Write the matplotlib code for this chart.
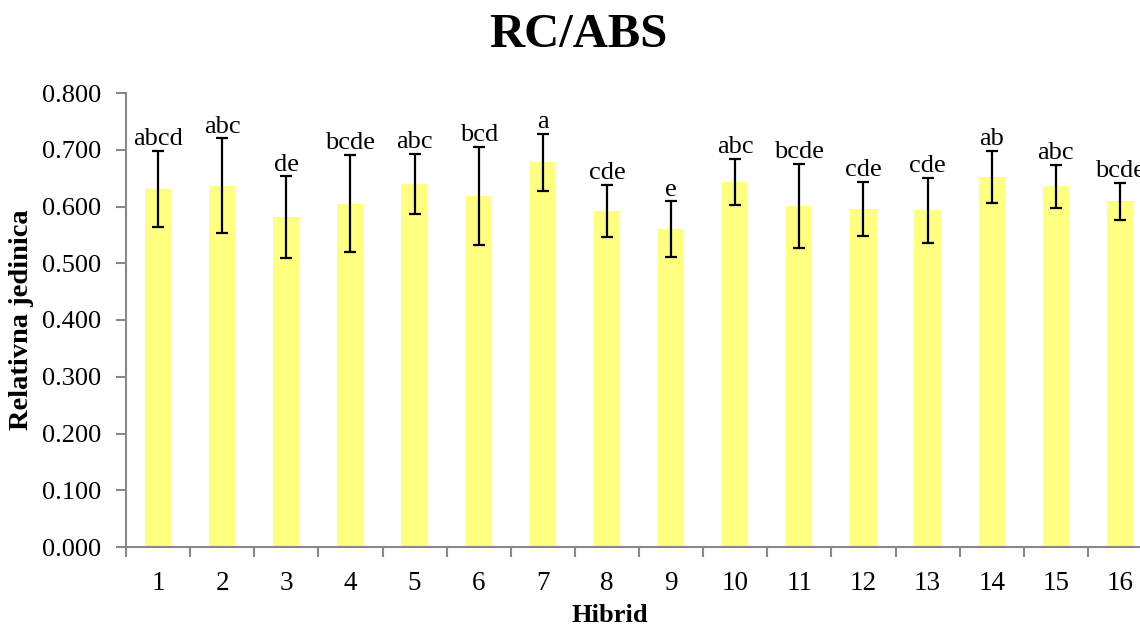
import matplotlib
matplotlib.use("Agg")
import matplotlib.pyplot as plt
import numpy as np

hibrid = ["1", "2", "3", "4", "5", "6", "7", "8", "9", "10", "11", "12", "13", "14", "15", "16"]
values = [0.631, 0.637, 0.581, 0.605, 0.640, 0.619, 0.678, 0.592, 0.560, 0.643, 0.601, 0.596, 0.593, 0.652, 0.636, 0.609]
errors = [0.067, 0.083, 0.072, 0.086, 0.053, 0.086, 0.050, 0.046, 0.049, 0.041, 0.074, 0.048, 0.058, 0.046, 0.038, 0.033]
letters = ["abcd", "abc", "de", "bcde", "abc", "bcd", "a", "cde", "e", "abc", "bcde", "cde", "cde", "ab", "abc", "bcde"]
yticks = [0.0, 0.1, 0.2, 0.3, 0.4, 0.5, 0.6, 0.7, 0.8]

plt.rcParams['font.family'] = ['Liberation Serif', 'DejaVu Serif']

fig = plt.figure(figsize=(11.4, 6.26), dpi=100)
ax = fig.add_axes([126/1140, 1-547/626, 1026/1140, (547-93)/626])

x = np.arange(len(hibrid))
ax.bar(x, values, width=0.41, color="#FFFF80", zorder=2)
ax.errorbar(x, values, yerr=errors, fmt="none", ecolor="black", elinewidth=1.6,
            capsize=4.5, capthick=1.6, zorder=3)
for xi, v, e, t in zip(x, values, errors, letters):
    ax.annotate(t, (xi, v + e), xytext=(0, 0.5), textcoords="offset points",
                ha="center", va="bottom", fontsize=19)

ax.set_xlim(-0.5, len(hibrid) - 0.5)
ax.set_ylim(0, 0.8)
ax.set_yticks(yticks)
ax.set_yticklabels([f"{t:.3f}" for t in yticks])
ax.set_xticks(np.arange(len(hibrid) + 1) - 0.5, minor=False)
ax.set_xticklabels([])
ax.set_xticks(x, minor=True)
ax.set_xticklabels(hibrid, minor=True)
ax.tick_params(axis="x", which="major", length=7, color="#888888", width=1.5, direction="out")
ax.tick_params(axis="x", which="minor", length=0, labelsize=19.5, pad=17)
ax.tick_params(axis="y", length=7, color="#888888", width=1.5, labelsize=19, pad=11)

for s in ["top", "right"]:
    ax.spines[s].set_visible(False)
for s in ["left", "bottom"]:
    ax.spines[s].set_color("#888888")
    ax.spines[s].set_linewidth(1.5)

fig.text(578/1140, 1-35/626, "RC/ABS", ha="center", va="center", fontsize=35, fontweight="bold")
fig.text(610/1140, 1-616/626, "Hibrid", ha="center", va="center", fontsize=19, fontweight="bold")
fig.text(22/1140, 1-320/626, "Relativna jedinica", ha="center", va="center", rotation=90,
         fontsize=20.5, fontweight="bold")

fig.savefig("out.png", dpi=100)
